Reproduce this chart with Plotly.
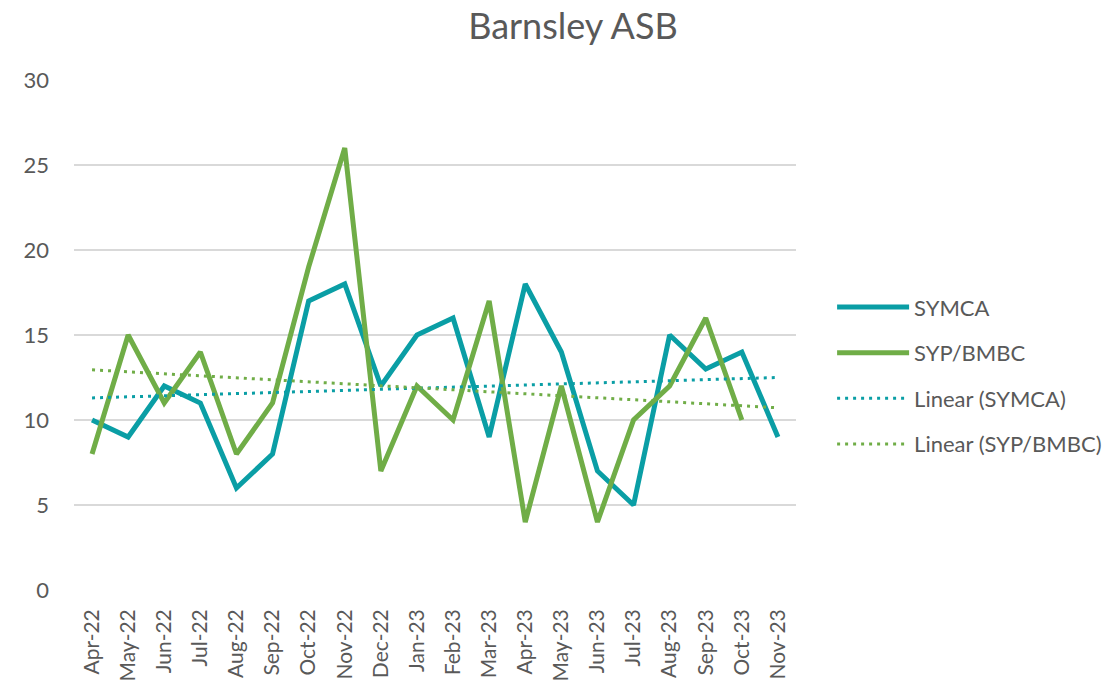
import numpy as np
import plotly.graph_objects as go

months = ["Apr-22", "May-22", "Jun-22", "Jul-22", "Aug-22", "Sep-22", "Oct-22", "Nov-22",
          "Dec-22", "Jan-23", "Feb-23", "Mar-23", "Apr-23", "May-23", "Jun-23", "Jul-23",
          "Aug-23", "Sep-23", "Oct-23", "Nov-23"]
symca = [10, 9, 12, 11, 6, 8, 17, 18, 12, 15, 16, 9, 18, 14, 7, 5, 15, 13, 14, 9]
syp_bmbc = [8, 15, 11, 14, 8, 11, 19, 26, 7, 12, 10, 17, 4, 12, 4, 10, 12, 16, 10, None]

TEAL = "#0a9ea5"
GREEN = "#70ad47"
TEXT = "#595959"
FONT = "Lato"


def linear_trend(values, n):
    xs = np.array([i + 1 for i, v in enumerate(values) if v is not None], dtype=float)
    ys = np.array([v for v in values if v is not None], dtype=float)
    slope, intercept = np.polyfit(xs, ys, 1)
    xx = np.arange(1, n + 1)
    return list(slope * xx + intercept)


n = len(months)
fig = go.Figure()
fig.add_trace(go.Scatter(x=months, y=symca, name="SYMCA", mode="lines",
                         line=dict(color=TEAL, width=5), legendgroup="a"))
fig.add_trace(go.Scatter(x=months, y=syp_bmbc, name="SYP/BMBC", mode="lines",
                         line=dict(color=GREEN, width=5), legendgroup="b"))
fig.add_trace(go.Scatter(x=months, y=linear_trend(symca, n), name="Linear (SYMCA)", mode="lines",
                         line=dict(color=TEAL, width=3, dash="3px,5px"), legendgroup="c"))
fig.add_trace(go.Scatter(x=months, y=linear_trend(syp_bmbc, n), name="Linear (SYP/BMBC)", mode="lines",
                         line=dict(color=GREEN, width=3, dash="3px,5px"), legendgroup="d"))

fig.update_layout(
    width=1119, height=684,
    paper_bgcolor="white", plot_bgcolor="white",
    margin=dict(l=74, r=321, t=80, b=94),
    font=dict(family=FONT, color=TEXT, size=22),
    title=dict(text="Barnsley ASB", x=0.512, xanchor="center", y=0.962, yanchor="middle",
               font=dict(family=FONT, size=36, color=TEXT)),
    showlegend=True,
    legend=dict(x=1.05, xanchor="left", y=0.42, yanchor="middle",
                font=dict(family=FONT, size=22, color=TEXT), itemwidth=72,
                traceorder="grouped", tracegroupgap=14, bgcolor="rgba(0,0,0,0)"),
    xaxis=dict(type="category", tickangle=-90, showgrid=False, showline=False,
               ticks="", tickfont=dict(size=21, color=TEXT), range=[-0.5, n - 0.5],
               automargin=False, ticklabelstandoff=14),
    yaxis=dict(range=[0, 30], dtick=5, showgrid=True, gridcolor="#d9d9d9", gridwidth=1.5,
               zeroline=False, showline=False, ticks="", ticklabelstandoff=24,
               automargin=False, tickfont=dict(size=22, color=TEXT)),
)

# remove the default 8px page margin so the figure fills the window exactly
fig.write_html("out.html", config={"displayModeBar": False},
               post_script="document.body.style.margin='0';document.body.style.overflow='hidden';")
